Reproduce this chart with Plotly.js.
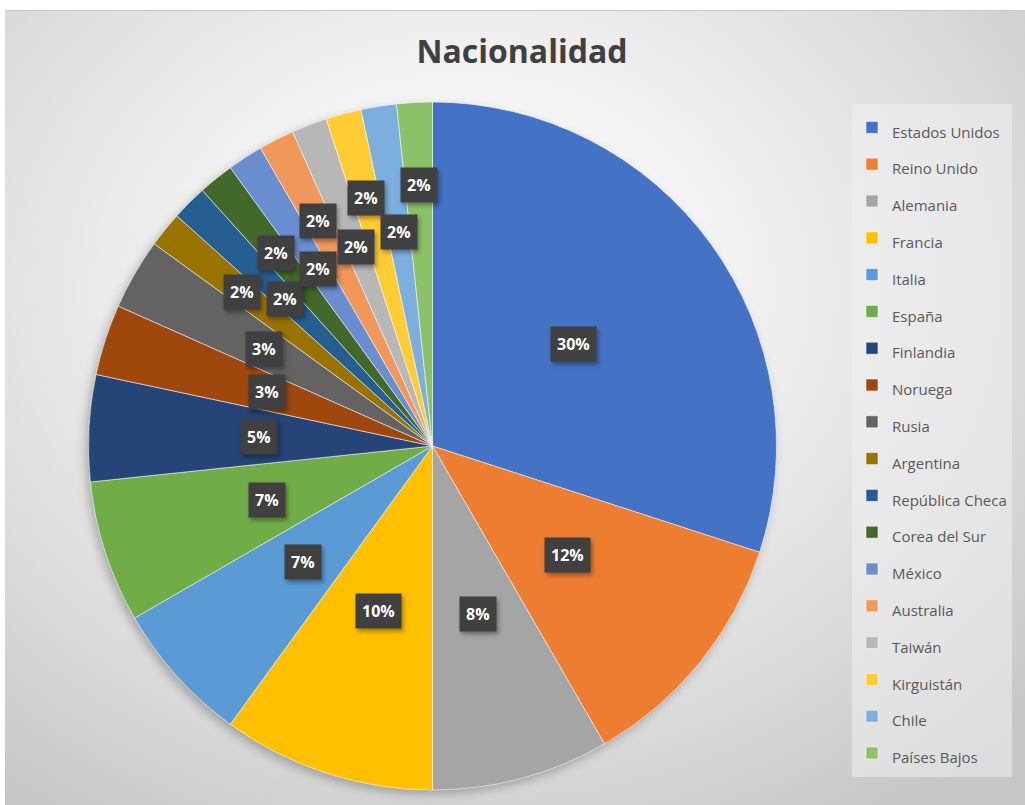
<!DOCTYPE html>
<html>
<head>
<meta charset="utf-8">
<script src="https://cdn.plot.ly/plotly-3.0.1.min.js"></script>
<style>
  html, body { margin:0; padding:0; background:#ffffff; }
  #wrap { position:relative; width:1025px; height:805px; background:#ffffff; overflow:hidden; }
  #bg { position:absolute; left:5px; top:10px; width:1020px; height:795px;
        border-top:1px solid #c8c8c8; box-sizing:border-box;
        background: radial-gradient(ellipse 75% 80% at 45% 35%, #ffffff 0%, #f2f2f2 35%, #dcdcdc 70%, #c6c6c6 100%); }
  #chart { position:absolute; left:0; top:0; width:1025px; height:805px; }
  .pielayer { filter: drop-shadow(-3px 4px 5px rgba(0,0,0,0.25)); }
  .annotation rect.bg { filter: drop-shadow(2px 3px 2px rgba(0,0,0,0.35)); }
</style>
</head>
<body>
<div id="wrap"><div id="bg"></div><div id="chart"></div></div>
<script>
// ---- data ----
const categories = ["Estados Unidos","Reino Unido","Alemania","Francia","Italia","España","Finlandia","Noruega","Rusia","Argentina","República Checa","Corea del Sur","México","Australia","Taiwán","Kirguistán","Chile","Países Bajos"];
const counts = [18,7,5,6,4,4,3,2,2,1,1,1,1,1,1,1,1,1];
const colors = ["#4472C4","#ED7D31","#A5A5A5","#FFC000","#5B9BD5","#70AD47","#264478","#9E480E","#636363","#997300","#255E91","#43682B","#698ED0","#F1975A","#B7B7B7","#FFCD33","#7CAFDD","#8CC168"];

// ---- layout constants ----
const W = 1025, H = 805;
const pieLeft = 88, pieRight = 777, pieTop = 102, pieBottom = 790;
const cx = (pieLeft + pieRight) / 2, cy = (pieTop + pieBottom) / 2;
const R = (pieRight - pieLeft) / 2;

const total = counts.reduce((a, b) => a + b, 0);

// legend labels rendered small while item spacing follows the larger legend font
const legendLabels = categories.map(c => '<span style="font-size:15px">' + c + '</span>');

const trace = {
  type: 'pie',
  labels: legendLabels,
  values: counts,
  sort: false,
  direction: 'clockwise',
  rotation: 0,
  textinfo: 'none',
  hoverinfo: 'none',
  marker: { colors: colors, line: { color: 'rgba(255,255,255,0.55)', width: 1 } },
  domain: { x: [pieLeft / W, pieRight / W], y: [1 - pieBottom / H, 1 - pieTop / H] }
};

// data labels as boxed annotations placed at each slice's mid-angle
const annotations = [];
let cum = 0, smallIdx = 0, midIdx = 0;
counts.forEach((v, i) => {
  const mid = (cum + v / 2) / total * 2 * Math.PI;
  cum += v;
  let rf;
  if (v > 2) { rf = 0.505; }
  else if (v === 2) { rf = 0.505 + 0.06 * midIdx; midIdx++; }
  else {
    rf = (smallIdx % 2 === 0) ? 0.71 + 0.006 * smallIdx : 0.60 + 0.004 * smallIdx;
    smallIdx++;
  }
  const px = cx + rf * R * Math.sin(mid);
  const py = cy - rf * R * Math.cos(mid);
  annotations.push({
    xref: 'paper', yref: 'paper', x: px / W, y: 1 - py / H,
    xanchor: 'center', yanchor: 'middle', showarrow: false,
    text: '<b>' + Math.round(v / total * 100) + '%</b>',
    font: { family: 'Open Sans', size: 16, color: '#ffffff' },
    bgcolor: '#404040', borderpad: 6
  });
});

const layout = {
  width: W, height: H,
  margin: { l: 0, r: 0, t: 0, b: 0 },
  paper_bgcolor: 'rgba(0,0,0,0)',
  plot_bgcolor: 'rgba(0,0,0,0)',
  title: {
    text: '<b>Nacionalidad</b>',
    font: { family: 'Open Sans', size: 32, color: '#404040' },
    x: 522 / W, xanchor: 'center', y: 1 - 52 / H, yanchor: 'middle'
  },
  showlegend: true,
  legend: {
    x: 852 / W, xanchor: 'left', y: 1 - 104 / H, yanchor: 'top',
    bgcolor: 'rgba(240,240,240,0.55)',
    font: { family: 'Open Sans', size: 26, color: '#595959' },
    traceorder: 'normal', itemwidth: 30
  },
  annotations: annotations
};

Plotly.newPlot('chart', [trace], layout, { displayModeBar: false, staticPlot: true });
</script>
</body>
</html>
